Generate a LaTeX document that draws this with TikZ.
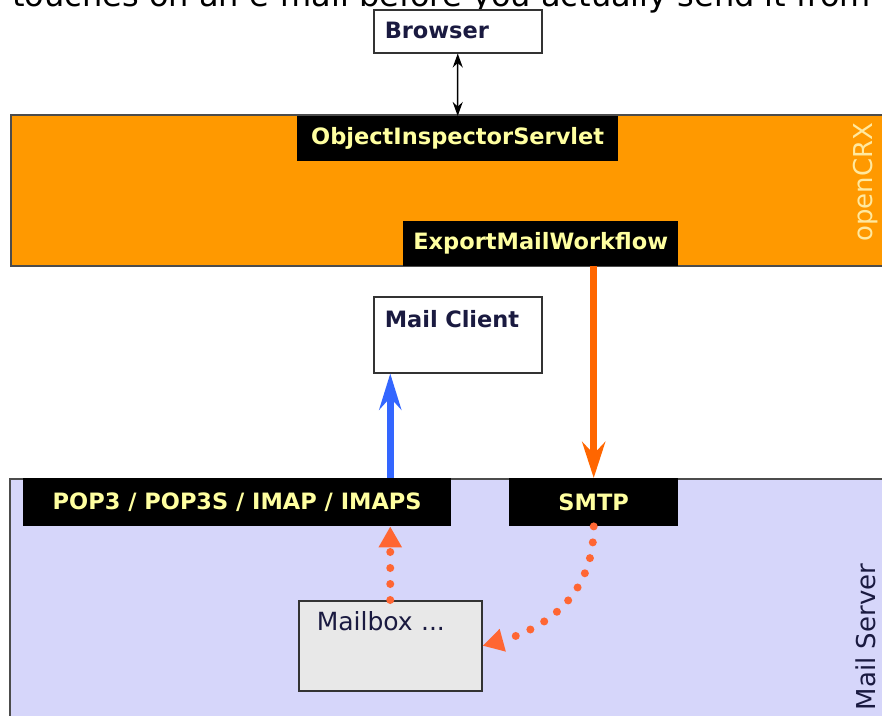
\documentclass[tikz,border=0pt]{standalone}
\usepackage{fontspec}
\setmainfont{DejaVu Sans}
\usetikzlibrary{arrows.meta,positioning}
\definecolor{crxorange}{HTML}{FF9900}
\definecolor{crxtext}{HTML}{FFE9A0}
\definecolor{srvlilac}{HTML}{D6D6FA}
\definecolor{tagyellow}{HTML}{FFFFA0}
\definecolor{mailblue}{HTML}{3366FF}
\definecolor{mailorange}{HTML}{FF6600}
\definecolor{dotorange}{HTML}{FF6633}
\definecolor{boxgray}{HTML}{E8E8E8}
\definecolor{inkblue}{HTML}{1A1A40}

\begin{document}
\begin{tikzpicture}[
        x=1pt, y=-1pt,
        box/.style={draw=black!80, line width=1.5pt, fill=white, anchor=north west,
            inner ysep=0pt, inner xsep=11pt, align=left, text=inkblue,
            font=\fontsize{22.5}{26}\selectfont\bfseries},
        tag/.style={fill=black, text=tagyellow, anchor=north west, inner sep=0pt,
            font=\fontsize{22.5}{26}\selectfont\bfseries},
        band/.style={draw=black!70, line width=1.5pt, anchor=north west, inner sep=0pt},
        side/.style={rotate=90, inner sep=0pt, font=\fontsize{26}{30}\selectfont},
        dots/.style={dotorange, line width=8pt, line cap=round,
            dash pattern=on 0pt off 16pt, -{Triangle[length=21pt,width=22pt]}}]
        \useasboundingbox (0,0) rectangle (882,715);
        \clip (0,0) rectangle (882,715);
        % page text above the figure
        \node[anchor=base west, inner sep=0pt, font=\fontsize{32}{36}\selectfont] (cut) at (12,6)
            {touches on an e-mail before you actually send it from};

        % NODES
        % openCRX band
        \node[band, fill=crxorange, minimum width=880, minimum height=151] (crx) at (10,114) {};
        \node[side, text=crxtext] (crxname) at (866,182) {openCRX};
        \node[tag, minimum width=321, minimum height=45] (ois) at (297,116) {ObjectInspectorServlet};
        \node[tag, minimum width=275, minimum height=45] (emw) at (403,221) {ExportMailWorkflow};
        % mail server band
        \node[band, fill=srvlilac, minimum width=880, minimum height=245] (srv) at (9,478) {};
        \node[side, text=inkblue] (srvname) at (866,637) {Mail Server};
        \node[tag, minimum width=428, minimum height=48] (pop) at (23,478) {POP3 / POP3S / IMAP / IMAPS};
        \node[tag, minimum width=169, minimum height=48] (smtp) at (509,478) {SMTP};
        % clients
        \node[box, text width=146, text height=29, text depth=14] (br) at (373,9) {Browser};
        \node[box, text width=146, text height=31, text depth=45] (mc) at (373,296) {Mail Client};
        \node[box, fill=boxgray, inner xsep=18pt, text width=147, text height=30, text depth=60,
            font=\fontsize{25}{28}\selectfont] (mbox) at (298,600) {Mailbox ...};

        % ARROWS
        \draw[line width=1.5pt, {Stealth[length=14pt,width=10pt]}-{Stealth[length=14pt,width=10pt]}] (br.south) -- (ois.north);
        \draw[mailblue, line width=7pt, -{Stealth[length=36pt,width=22pt,inset=12pt]}] (pop.north -| mbox.north) -- (mc.south -| mbox.north);
        \draw[mailorange, line width=7pt, -{Stealth[length=36pt,width=23pt,inset=12pt]}] (smtp.north |- emw.south) -- (smtp.north);
        \draw[dots] (mbox.north) -- (mbox.north |- pop.south);
        \draw[dots] (smtp.south) .. controls +(0,75) and +(55,-15) .. (mbox.east);
\end{tikzpicture}
\end{document}
